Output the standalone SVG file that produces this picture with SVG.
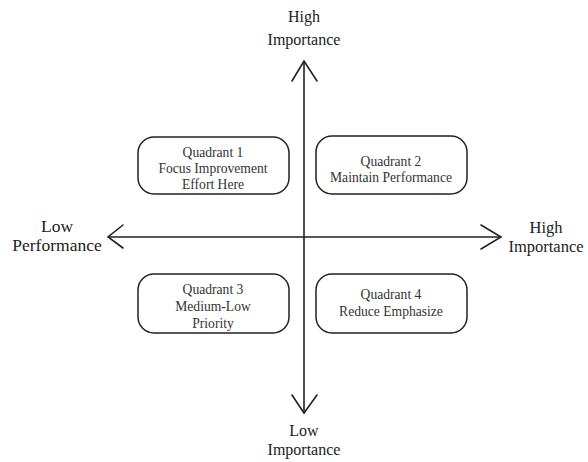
<svg xmlns="http://www.w3.org/2000/svg" width="588" height="462" viewBox="0 0 588 462">
<style>
.box{fill:#fff;stroke:#222;stroke-width:1.5}
.ax{fill:none;stroke:#222;stroke-width:1.6;stroke-linecap:round;stroke-linejoin:miter}
text{font-family:'Liberation Serif','DejaVu Serif',serif;text-anchor:middle}
.t{font-size:13.6px;fill:#333}
.l{font-size:16px;fill:#222}
</style>
<rect width="588" height="462" fill="#fff"/>
<g id="connectors">
<line class="ax" x1="304" y1="62" x2="304" y2="411"/>
<polyline class="ax" points="292,81 304,61 317,81"/>
<polyline class="ax" points="292,395 304,413 317,395"/>
<line class="ax" x1="109" y1="237" x2="500" y2="237"/>
<polyline class="ax" points="123,225 108,237 123,248"/>
<polyline class="ax" points="481,225 501,237 481,249"/>
</g>
<g id="label-top"><text class="l" x="304" y="22">High</text><text class="l" x="304" y="45">Importance</text></g>
<g id="label-bottom"><text class="l" x="304" y="436">Low</text><text class="l" x="304" y="455">Importance</text></g>
<g id="label-left"><text class="l" x="57" y="232" style="font-size:17.5px">Low</text><text class="l" x="57" y="251" style="font-size:17.5px">Performance</text></g>
<g id="label-right"><text class="l" x="546" y="233" style="font-size:16.5px">High</text><text class="l" x="546" y="252" style="font-size:16.5px">Importance</text></g>
<g id="q1"><rect class="box" x="138" y="137" width="151" height="57" rx="16"/>
<text class="t" x="213" y="157">Quadrant 1</text><text class="t" x="213" y="173">Focus Improvement</text><text class="t" x="213" y="189">Effort Here</text></g>
<g id="q2"><rect class="box" x="316" y="136" width="151" height="58" rx="16"/>
<text class="t" x="391" y="166">Quadrant 2</text><text class="t" x="391" y="182">Maintain Performance</text></g>
<g id="q3"><rect class="box" x="138" y="274" width="151" height="59" rx="16"/>
<text class="t" x="213" y="294">Quadrant 3</text><text class="t" x="213" y="311">Medium-Low</text><text class="t" x="213" y="328">Priority</text></g>
<g id="q4"><rect class="box" x="316" y="274" width="151" height="59" rx="16"/>
<text class="t" x="391" y="299">Quadrant 4</text><text class="t" x="391" y="316">Reduce Emphasize</text></g>
</svg>
